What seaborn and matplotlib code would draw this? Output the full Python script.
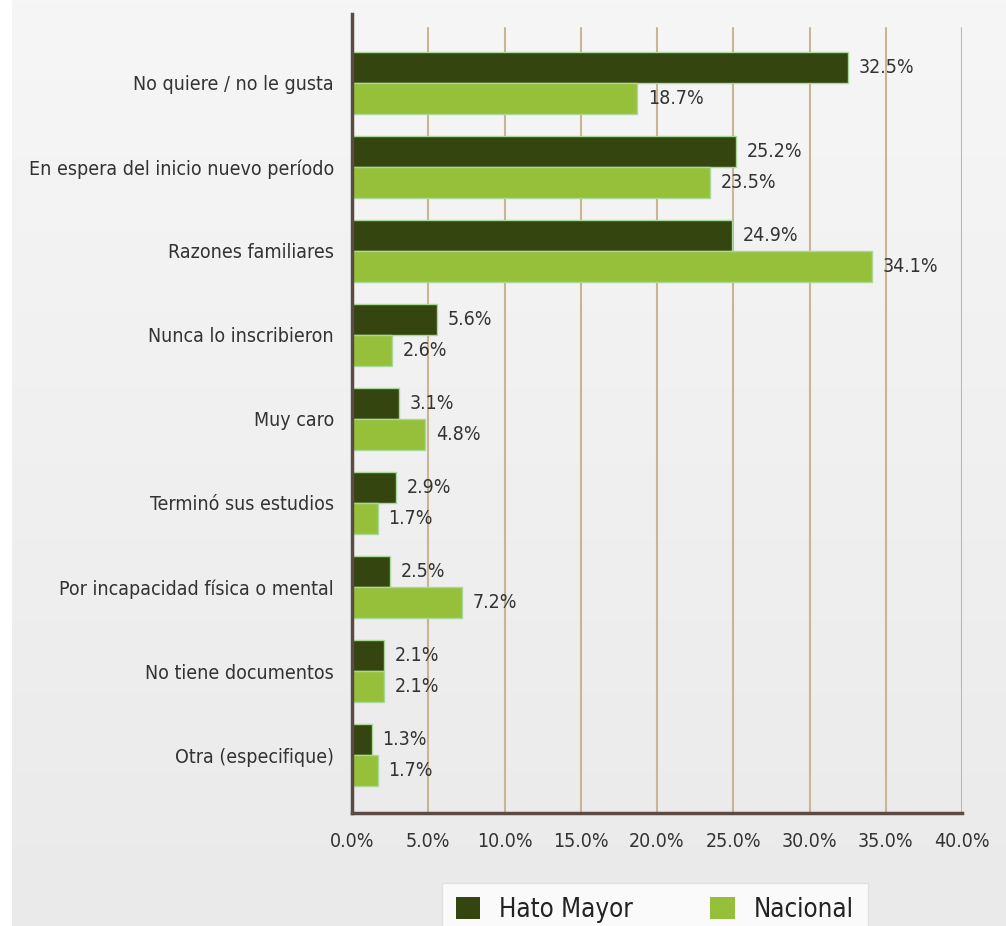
import numpy as np
import pandas as pd
import seaborn as sns
import matplotlib.pyplot as plt
from matplotlib.patches import Patch

# categorías y valores (%)
categorias = [
    "No quiere / no le gusta",
    "En espera del inicio nuevo período",
    "Razones familiares",
    "Nunca lo inscribieron",
    "Muy caro",
    "Terminó sus estudios",
    "Por incapacidad física o mental",
    "No tiene documentos",
    "Otra (especifique)",
]
hato_mayor = [32.5, 25.2, 24.9, 5.6, 3.1, 2.9, 2.5, 2.1, 1.3]
nacional = [18.7, 23.5, 34.1, 2.6, 4.8, 1.7, 7.2, 2.1, 1.7]
series = ["Hato Mayor", "Nacional"]
x_ticks = [0, 5, 10, 15, 20, 25, 30, 35, 40]

colores = ["#34450f", "#96c03a"]

df = pd.DataFrame({
    "categoria": categorias * 2,
    "valor": hato_mayor + nacional,
    "serie": [series[0]] * len(categorias) + [series[1]] * len(categorias),
})

sns.set_style("white")
plt.rcParams["font.family"] = ["DejaVu Sans"]
plt.rcParams["font.stretch"] = "condensed"

fig = plt.figure(figsize=(10.06, 9.26), dpi=100)
# fondo gris claro con degradado
grad = np.linspace(0, 1, 256).reshape(-1, 1)
bg = fig.add_axes([12 / 1006, 0, 1 - 12 / 1006, 1], zorder=-10)
bg.imshow(grad, aspect="auto", cmap=sns.blend_palette(["#f6f6f6", "#eaeaea"], as_cmap=True),
          extent=[0, 1, 0, 1], origin="upper")
bg.axis("off")

ax = fig.add_axes([352 / 1006, 1 - 813 / 926, 610 / 1006, 799 / 926])
ax.patch.set_alpha(0)

sns.barplot(data=df, y="categoria", x="valor", hue="serie", palette=colores,
            orient="h", width=0.74, dodge=True, ax=ax, legend=False, saturation=1,
            edgecolor="#a9d89b", linewidth=1, zorder=3)

# etiquetas de valor
for cont in ax.containers:
    for bar in cont:
        w = bar.get_width()
        ax.text(w + 0.7, bar.get_y() + bar.get_height() / 2, f"{w:.1f}%",
                va="center", ha="left", fontsize=14, color="#333333", zorder=5)

ax.set_xlim(0, 40)
ax.set_ylim(len(categorias) - 1 + 0.69, -0.82)
ax.set_xticks(x_ticks)
ax.set_xticklabels([f"{t:.1f}%" for t in x_ticks], fontsize=14, color="#333333")
ax.tick_params(axis="x", length=0, pad=14)
ax.tick_params(axis="y", length=0, pad=13, labelsize=14, labelcolor="#333333")
ax.set_xlabel("")
ax.set_ylabel("")

for t in x_ticks[1:]:
    ax.axvline(t, ymax=0.982, color="#c8b594", lw=1.5, zorder=1)

for s in ["top", "right"]:
    ax.spines[s].set_visible(False)
for s in ["left", "bottom"]:
    ax.spines[s].set_color("#5b4b43")
    ax.spines[s].set_linewidth(2.5)
    ax.spines[s].set_zorder(4)

handles = [Patch(facecolor=c, edgecolor="none") for c in colores]
leg = fig.legend(handles, series, loc="upper center", bbox_to_anchor=(0.651, 1 - 883 / 926),
                 ncol=2, frameon=True, fontsize=18.5, handlelength=0.95, handleheight=0.95,
                 columnspacing=3.0, handletextpad=0.75, borderpad=0.55, borderaxespad=0,
                 fancybox=False)
leg.get_frame().set_facecolor("white")
leg.get_frame().set_edgecolor("#dddddd")
for txt in leg.get_texts():
    txt.set_color("#222222")

fig.savefig("out.png", dpi=100)
